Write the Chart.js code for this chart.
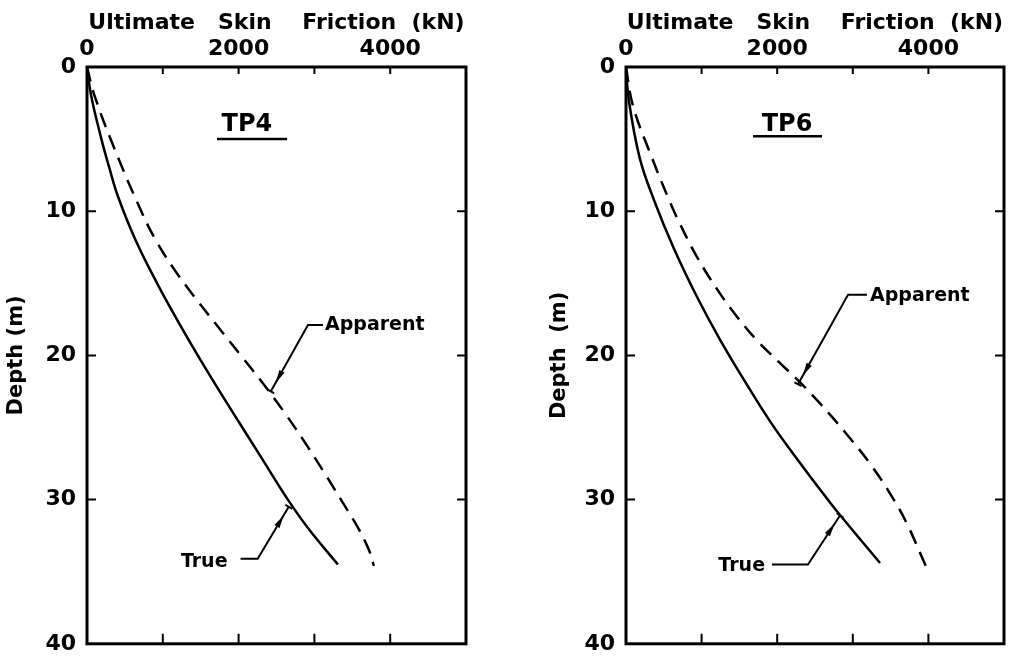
<!DOCTYPE html>
<html>
<head>
<meta charset="utf-8">
<script src="https://cdn.jsdelivr.net/npm/chart.js@4"></script>
<style>
  body { margin: 0; background: #fff; }
  .panel { position: absolute; top: 0; height: 668px; }
  #left { left: 0; width: 500px; }
  #right { left: 500px; width: 509px; }
</style>
</head>
<body>
<div class="panel" id="left"><canvas id="chartTP4"></canvas></div>
<div class="panel" id="right"><canvas id="chartTP6"></canvas></div>
<script>
// TP4 - depth (m) and ultimate skin friction (kN)
const tp4TrueDepth = [0, 2, 5, 7, 9, 12, 15, 18, 21, 24, 27, 30, 32, 34.5];
const tp4TrueFriction = [0, 55, 190, 295, 410, 640, 925, 1240, 1576, 1930, 2290, 2650, 2920, 3310];
const tp4AppDepth = [0, 2, 6, 10, 12, 14, 16, 18, 20, 22, 24, 26, 28, 30, 32, 33.5, 34.6];
const tp4AppFriction = [0, 100, 388, 716, 906, 1146, 1426, 1726, 2030, 2330, 2610, 2870, 3114, 3350, 3580, 3720, 3785];

// TP6
const tp6TrueDepth = [0, 2.4, 6.3, 9.1, 12.5, 15.9, 18.9, 22, 24.8, 27.3, 29.8, 31, 34.4];
const tp6TrueFriction = [0, 40, 181, 361, 626, 935, 1243, 1596, 1935, 2280, 2640, 2820, 3360];
const tp6AppDepth = [0, 2.7, 6.3, 9.1, 10.4, 13.2, 15.7, 17.3, 18.9, 20.5, 21.8, 23.4, 25.5, 27.7, 30, 31.6, 34.6];
const tp6AppFriction = [0, 93, 344, 560, 670, 942, 1242, 1466, 1722, 2030, 2290, 2578, 2925, 3255, 3542, 3710, 3965];

const xTickLabels = [0, 2000, 4000];
const FONT = "'DejaVu Sans', sans-serif";

// labels and leader lines, in data units (friction, depth)
const notesTP4 = {
  label: 'TP4', labelAt: [2110, 4.0], underline: [1715, 2640, 5.0],
  callouts: [
    { text: 'Apparent', align: 'left', textAt: [3140, 17.9], leader: [[3113, 17.9], [2915, 17.9], [2424, 22.5]] },
    { text: 'True', align: 'right', textAt: [1854, 34.3], leader: [[2026, 34.1], [2252, 34.1], [2662, 30.5]] }
  ]
};
const notesTP6 = {
  label: 'TP6', labelAt: [2130, 4.0], underline: [1680, 2593, 4.8],
  callouts: [
    { text: 'Apparent', align: 'left', textAt: [3228, 15.9], leader: [[3188, 15.8], [2937, 15.8], [2275, 22.0]] },
    { text: 'True', align: 'right', textAt: [1839, 34.6], leader: [[1931, 34.5], [2407, 34.5], [2831, 31.1]] }
  ]
};

function pts(xs, ys) {
  return xs.map((v, i) => ({ x: v, y: ys[i] }));
}

const framePlugin = {
  id: 'frame',
  afterDraw(chart, args, opts) {
    const ctx = chart.ctx;
    const a = chart.chartArea;
    const x = chart.scales.x;
    const y = chart.scales.y;
    ctx.save();
    ctx.strokeStyle = '#000';
    ctx.fillStyle = '#000';
    ctx.lineWidth = 3;
    ctx.strokeRect(a.left, a.top, a.right - a.left, a.bottom - a.top);

    // inward ticks on all four sides
    ctx.lineWidth = 2;
    ctx.beginPath();
    x.ticks.forEach(t => {
      if (t.value <= x.min || t.value >= x.max) return;
      const px = x.getPixelForValue(t.value);
      ctx.moveTo(px, a.top); ctx.lineTo(px, a.top + 7);
      ctx.moveTo(px, a.bottom); ctx.lineTo(px, a.bottom - 10);
    });
    y.ticks.forEach(t => {
      if (t.value <= y.min || t.value >= y.max) return;
      const py = y.getPixelForValue(t.value);
      ctx.moveTo(a.left, py); ctx.lineTo(a.left + 9, py);
      ctx.moveTo(a.right, py); ctx.lineTo(a.right - 9, py);
    });
    ctx.stroke();

    const n = opts.notes;
    if (!n) { ctx.restore(); return; }

    // panel label with underline
    ctx.font = 'bold 24px ' + FONT;
    ctx.textAlign = 'center';
    ctx.textBaseline = 'middle';
    ctx.fillText(n.label, x.getPixelForValue(n.labelAt[0]), y.getPixelForValue(n.labelAt[1]));
    ctx.lineWidth = 2.5;
    ctx.beginPath();
    ctx.moveTo(x.getPixelForValue(n.underline[0]), y.getPixelForValue(n.underline[2]));
    ctx.lineTo(x.getPixelForValue(n.underline[1]), y.getPixelForValue(n.underline[2]));
    ctx.stroke();

    // callouts
    ctx.font = 'bold 19px ' + FONT;
    n.callouts.forEach(c => {
      ctx.textAlign = c.align;
      ctx.fillText(c.text, x.getPixelForValue(c.textAt[0]), y.getPixelForValue(c.textAt[1]));
      const p = c.leader.map(q => [x.getPixelForValue(q[0]), y.getPixelForValue(q[1])]);
      ctx.lineWidth = 2;
      ctx.beginPath();
      ctx.moveTo(p[0][0], p[0][1]);
      for (let i = 1; i < p.length; i++) ctx.lineTo(p[i][0], p[i][1]);
      ctx.stroke();
      // arrow head near the tip, and a small bar at the tip
      const tip = p[p.length - 1], from = p[p.length - 2];
      const dx = tip[0] - from[0], dy = tip[1] - from[1];
      const len = Math.hypot(dx, dy), ux = dx / len, uy = dy / len;
      const hx = tip[0] - ux * 10, hy = tip[1] - uy * 10;
      ctx.beginPath();
      ctx.moveTo(hx, hy);
      ctx.lineTo(hx - ux * 13 - uy * 3, hy - uy * 13 + ux * 3);
      ctx.lineTo(hx - ux * 13 + uy * 3, hy - uy * 13 - ux * 3);
      ctx.closePath();
      ctx.fill();
      ctx.beginPath();
      ctx.moveTo(tip[0] - uy * 4, tip[1] + ux * 4);
      ctx.lineTo(tip[0] + uy * 4, tip[1] - ux * 4);
      ctx.stroke();
    });
    ctx.restore();
  }
};

function makePanel(id, trueData, appData, notes, padding, yTitle, yWidth) {
  return new Chart(id, {
    type: 'scatter',
    data: {
      datasets: [{
        label: 'True',
        data: trueData,
        showLine: true,
        borderColor: '#000',
        borderWidth: 2.5,
        pointRadius: 0,
        tension: 0.4
      }, {
        label: 'Apparent',
        data: appData,
        showLine: true,
        borderColor: '#000',
        borderWidth: 2.5,
        borderDash: [15, 9],
        pointRadius: 0,
        tension: 0.4
      }]
    },
    options: {
      responsive: true,
      maintainAspectRatio: false,
      animation: false,
      layout: { padding: padding },
      plugins: {
        legend: { display: false },
        tooltip: { enabled: false },
        frame: { notes: notes }
      },
      scales: {
        x: {
          type: 'linear',
          position: 'top',
          min: 0,
          max: 5000,
          grid: { display: false, drawTicks: false },
          border: { display: false },
          ticks: {
            stepSize: 1000,
            autoSkip: false,
            maxRotation: 0,
            padding: 5,
            color: '#000',
            font: { family: FONT, size: 22, weight: 'bold' },
            callback: v => xTickLabels.includes(v) ? String(v) : ''
          },
          title: {
            display: true,
            text: 'Ultimate   Skin    Friction  (kN)',
            color: '#000',
            font: { family: FONT, size: 22, weight: 'bold' },
            padding: { top: 10, bottom: 0 }
          },
          afterFit: s => { s.height = 67; }
        },
        y: {
          type: 'linear',
          reverse: true,
          min: 0,
          max: 40,
          grid: { display: false, drawTicks: false },
          border: { display: false },
          ticks: {
            stepSize: 10,
            padding: 11,
            color: '#000',
            font: { family: FONT, size: 22, weight: 'bold' }
          },
          title: {
            display: true,
            text: yTitle,
            color: '#000',
            font: { family: FONT, size: 21, weight: 'bold' },
            padding: { top: 4, bottom: 0 }
          },
          afterFit: s => { s.width = yWidth; }
        }
      }
    },
    plugins: [framePlugin]
  });
}

makePanel('chartTP4', pts(tp4TrueFriction, tp4TrueDepth), pts(tp4AppFriction, tp4AppDepth),
  notesTP4, { left: 0, right: 34, top: 0, bottom: 14 }, 'Depth (m)', 87);
makePanel('chartTP6', pts(tp6TrueFriction, tp6TrueDepth), pts(tp6AppFriction, tp6AppDepth),
  notesTP6, { left: 43, right: 5, top: 0, bottom: 15 }, 'Depth  (m)', 83);
</script>
</body>
</html>
